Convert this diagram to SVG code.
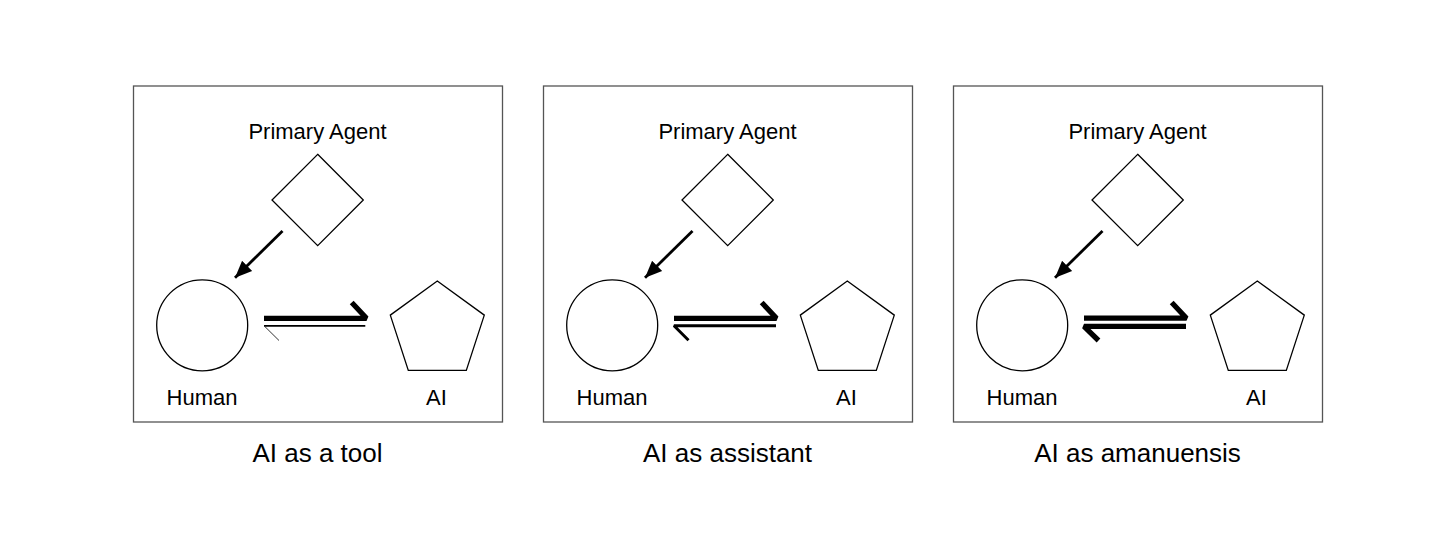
<svg xmlns="http://www.w3.org/2000/svg" width="1456" height="558" viewBox="0 0 1456 558">
<defs>
<style>
.frame{fill:none;stroke:#555;stroke-width:1.3}
.shape{fill:#fff;stroke:#000;stroke-width:1.3}
.lbl{font-family:"Liberation Sans",Arial,sans-serif;font-size:22px;fill:#000;text-anchor:middle}
.cap{font-family:"Liberation Sans",Arial,sans-serif;font-size:26px;fill:#000;text-anchor:middle}
.arr{fill:none;stroke:#000;stroke-width:2.8}
.h{fill:none;stroke:#000;stroke-linejoin:bevel;stroke-linecap:butt}
</style>
<marker id="ah" markerUnits="userSpaceOnUse" markerWidth="20" markerHeight="16" refX="17" refY="8" orient="auto">
<path d="M0,0.8 L17,8 L0,15.2 z" fill="#000"/>
</marker>
</defs>

<g id="panel-tool" transform="translate(133.5,0)">
<rect class="frame" x="0" y="86" width="369" height="336"/>
<g id="tool-primary-agent"><polygon class="shape" points="184.2,154.3 229.8,200 184.2,245.7 138.5,200"/><text class="lbl" x="184" y="138.5">Primary Agent</text></g>
<g id="tool-human"><circle class="shape" cx="68.7" cy="325.3" r="45.5"/><text class="lbl" x="68.5" y="405">Human</text></g>
<g id="tool-ai"><polygon class="shape" points="303.8,281 350.8,315.1 332.8,370.4 274.8,370.4 256.8,315.1"/><text class="lbl" x="303" y="405">AI</text></g>
<g id="tool-connectors">
<line class="arr" x1="149" y1="231" x2="101.5" y2="277.7" marker-end="url(#ah)"/>
<polyline class="h" stroke-width="5.3" points="130.5,318.3 233,318.3 218.2,302.5"/>
<polyline class="h" stroke="#888" stroke-width="1.7" points="231.8,325.8 130.5,325.8"/>
<line x1="131" y1="326.2" x2="145.5" y2="340.5" stroke="#333" stroke-width="1"/>
</g>
<text class="cap" x="184" y="461.7">AI as a tool</text>
</g>

<g id="panel-assistant" transform="translate(543.5,0)">
<rect class="frame" x="0" y="86" width="369" height="336"/>
<g id="assistant-primary-agent"><polygon class="shape" points="184.2,154.3 229.8,200 184.2,245.7 138.5,200"/><text class="lbl" x="184" y="138.5">Primary Agent</text></g>
<g id="assistant-human"><circle class="shape" cx="68.7" cy="325.3" r="45.5"/><text class="lbl" x="68.5" y="405">Human</text></g>
<g id="assistant-ai"><polygon class="shape" points="303.8,281 350.8,315.1 332.8,370.4 274.8,370.4 256.8,315.1"/><text class="lbl" x="303" y="405">AI</text></g>
<g id="assistant-connectors">
<line class="arr" x1="149" y1="231" x2="101.5" y2="277.7" marker-end="url(#ah)"/>
<polyline class="h" stroke-width="5.3" points="130.5,318.3 233,318.3 218.2,302.5"/>
<polyline class="h" stroke-width="3" points="232.5,325.8 130.5,325.8 145,340.2"/>
</g>
<text class="cap" x="184" y="461.7">AI as assistant</text>
</g>

<g id="panel-amanuensis" transform="translate(953.5,0)">
<rect class="frame" x="0" y="86" width="369" height="336"/>
<g id="amanuensis-primary-agent"><polygon class="shape" points="184.2,154.3 229.8,200 184.2,245.7 138.5,200"/><text class="lbl" x="184" y="138.5">Primary Agent</text></g>
<g id="amanuensis-human"><circle class="shape" cx="68.7" cy="325.3" r="45.5"/><text class="lbl" x="68.5" y="405">Human</text></g>
<g id="amanuensis-ai"><polygon class="shape" points="303.8,281 350.8,315.1 332.8,370.4 274.8,370.4 256.8,315.1"/><text class="lbl" x="303" y="405">AI</text></g>
<g id="amanuensis-connectors">
<line class="arr" x1="149" y1="231" x2="101.5" y2="277.7" marker-end="url(#ah)"/>
<polyline class="h" stroke-width="5.3" points="130.5,318.2 233,318.2 218.2,302.5"/>
<polyline class="h" stroke-width="5.3" points="232.5,326.3 130.5,326.3 145,340.5"/>
</g>
<text class="cap" x="184" y="461.7">AI as amanuensis</text>
</g>
</svg>
